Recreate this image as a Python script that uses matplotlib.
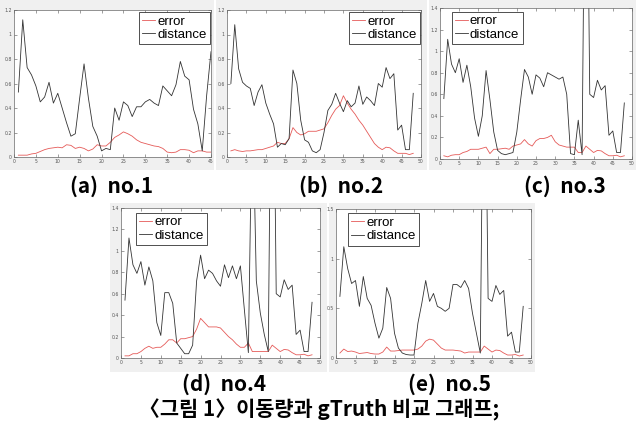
import matplotlib
matplotlib.use("Agg")
import matplotlib.pyplot as plt
from matplotlib.ticker import FuncFormatter
import numpy as np

W, H = 636, 428

# ---------------- data ----------------
err_a = [0.015, 0.015, 0.015, 0.025, 0.03, 0.045, 0.06, 0.07, 0.075, 0.08,
         0.075, 0.1, 0.095, 0.07, 0.08, 0.07, 0.05, 0.065, 0.1, 0.09,
         0.09, 0.12, 0.16, 0.18, 0.205, 0.19, 0.17, 0.14, 0.12, 0.11,
         0.1, 0.09, 0.085, 0.07, 0.04, 0.035, 0.04, 0.06, 0.06, 0.055,
         0.035, 0.05, 0.05, 0.04, 0.04]
dist_a = [0.53, 1.12, 0.73, 0.67, 0.58, 0.45, 0.49, 0.61, 0.44, 0.52,
          0.4, 0.28, 0.17, 0.19, 0.48, 0.76, 0.48, 0.25, 0.17, 0.05,
          0.07, 0.06, 0.4, 0.3, 0.45, 0.42, 0.33, 0.41, 0.41, 0.45,
          0.47, 0.44, 0.42, 0.58, 0.54, 0.5, 0.59, 0.78, 0.66, 0.63,
          0.39, 0.27, 0.05, 0.5, 0.86]

err_b = [0.05, 0.06, 0.05, 0.045, 0.05, 0.05, 0.055, 0.06, 0.06, 0.07,
         0.08, 0.09, 0.12, 0.11, 0.11, 0.15, 0.24, 0.2, 0.18, 0.19,
         0.21, 0.21, 0.21, 0.22, 0.23, 0.28, 0.34, 0.39, 0.42, 0.5,
         0.44, 0.39, 0.35, 0.3, 0.26, 0.21, 0.16, 0.11, 0.08, 0.06,
         0.08, 0.075, 0.05, 0.03, 0.03, 0.03, 0.02, 0.03]
dist_b = [0.6, 1.08, 0.72, 0.61, 0.58, 0.56, 0.42, 0.53, 0.59, 0.44,
          0.35, 0.27, 0.08, 0.11, 0.1, 0.15, 0.71, 0.6, 0.3, 0.14,
          0.12, 0.05, 0.035, 0.06, 0.2, 0.38, 0.43, 0.52, 0.44, 0.37,
          0.46, 0.41, 0.44, 0.58, 0.43, 0.49, 0.46, 0.42, 0.6, 0.57,
          0.73, 0.64, 0.68, 0.22, 0.26, 0.06, 0.06, 0.52]

err_c = [0.03, 0.02, 0.035, 0.04, 0.04, 0.06, 0.07, 0.09, 0.09, 0.09,
         0.1, 0.11, 0.05, 0.09, 0.09, 0.095, 0.1, 0.09, 0.12, 0.13,
         0.14, 0.18, 0.14, 0.12, 0.17, 0.19, 0.19, 0.2, 0.22, 0.16,
         0.13, 0.12, 0.11, 0.11, 0.11, 0.06, 0.06, 0.12, 0.09, 0.06,
         0.08, 0.075, 0.05, 0.03, 0.03, 0.035, 0.02, 0.03]
dist_c = [0.56, 1.11, 0.88, 0.8, 0.93, 0.71, 0.87, 0.67, 0.38, 0.21,
          0.4, 0.82, 0.55, 0.25, 0.08, 0.05, 0.04, 0.05, 0.06, 0.25,
          0.55, 0.83, 0.76, 0.6, 0.78, 0.75, 0.67, 0.8, 0.78, 0.76,
          0.74, 0.76, 0.6, 0.05, 0.04, 0.36, 0.04, 4.0, 0.6, 0.57,
          0.73, 0.64, 0.68, 0.22, 0.26, 0.06, 0.06, 0.52]

err_d = [0.02, 0.02, 0.04, 0.04, 0.06, 0.09, 0.11, 0.09, 0.1, 0.1,
         0.13, 0.17, 0.17, 0.14, 0.18, 0.18, 0.19, 0.2, 0.27, 0.37,
         0.33, 0.29, 0.29, 0.29, 0.28, 0.24, 0.2, 0.17, 0.13, 0.1,
         0.1, 0.14, 0.06, 0.06, 0.06, 0.06, 0.06, 0.12, 0.09, 0.06,
         0.08, 0.075, 0.05, 0.03, 0.03, 0.035, 0.02, 0.03]
dist_d = [0.54, 1.12, 0.87, 0.79, 0.9, 0.68, 0.85, 0.72, 0.33, 0.21,
          0.61, 0.61, 0.51, 0.14, 0.09, 0.04, 0.04, 0.12, 0.72, 0.96,
          0.74, 0.82, 0.79, 0.72, 0.67, 0.87, 0.75, 0.86, 0.74, 0.86,
          0.45, 0.05, 2.5, 0.72, 0.42, 0.22, 0.06, 4.0, 0.6, 0.57,
          0.73, 0.64, 0.68, 0.22, 0.26, 0.06, 0.06, 0.52]

err_e = [0.05, 0.09, 0.065, 0.07, 0.06, 0.045, 0.05, 0.055, 0.045, 0.04,
         0.04, 0.06, 0.11, 0.07, 0.07, 0.075, 0.08, 0.08, 0.08, 0.08,
         0.09, 0.12, 0.17, 0.19, 0.18, 0.14, 0.1, 0.08, 0.08, 0.08,
         0.075, 0.07, 0.05, 0.06, 0.06, 0.06, 0.06, 0.12, 0.09, 0.06,
         0.08, 0.075, 0.05, 0.03, 0.03, 0.035, 0.02, 0.03]
dist_e = [0.62, 1.12, 0.9, 0.75, 0.78, 0.52, 0.82, 0.6, 0.53, 0.35,
          0.2, 0.3, 0.71, 0.6, 0.25, 0.1, 0.05, 0.035, 0.03, 0.03,
          0.35, 0.55, 0.78, 0.57, 0.65, 0.52, 0.5, 0.47, 0.5, 0.74,
          0.74, 0.71, 0.78, 0.7, 0.45, 0.25, 0.05, 4.0, 0.6, 0.57,
          0.73, 0.64, 0.68, 0.22, 0.26, 0.06, 0.06, 0.52]

series_labels = ["error", "distance"]
captions = ["(a)  no.1", "(b)  no.2", "(c)  no.3", "(d)  no.4", "(e)  no.5"]
fig_caption = "〈그림 1〉이동량과 gTruth 비교 그래프;"

x_limits = [45, 50, 50, 50, 50]
x_ticks = [np.arange(0, 46, 5), np.arange(0, 51, 5), np.arange(0, 51, 5),
           np.arange(0, 51, 5), np.arange(0, 51, 5)]
y_limits = [1.2, 1.2, 1.4, 1.4, 1.5]
y_ticks = [np.arange(0, 1.21, 0.2), np.arange(0, 1.21, 0.2),
           np.arange(0, 1.41, 0.2), np.arange(0, 1.41, 0.2),
           np.arange(0, 1.51, 0.5)]

panels = [(err_a, dist_a), (err_b, dist_b), (err_c, dist_c),
          (err_d, dist_d), (err_e, dist_e)]

# ---------------- layout (pixels) ----------------
ax_boxes = [(14, 10, 211, 157), (227, 10, 421, 157), (440, 8, 632, 159),
            (121, 208, 320, 358), (336, 209, 531, 358)]
gray_boxes = [(0, 0, 214, 170), (216, 0, 427, 170), (429, 0, 636, 170),
              (110, 203, 327, 372), (329, 203, 535, 372)]
legend_anchor = [("upper right", (0.995, 0.985)), ("upper right", (0.995, 0.985)),
                 ("upper left", (0.06, 0.975)), ("upper left", (0.075, 0.967)),
                 ("upper left", (0.06, 0.97))]
cap_pos = [(112, 186), (341, 186), (565, 186), (224, 384), (449, 384)]

fig = plt.figure(figsize=(W / 100, H / 100), dpi=100)
fig.patch.set_facecolor("white")

for (x0, y0, x1, y1) in gray_boxes:
    bg = fig.add_axes([x0 / W, 1 - y1 / H, (x1 - x0) / W, (y1 - y0) / H], zorder=-5)
    bg.set_facecolor("#f0f0f0")
    bg.set_xticks([])
    bg.set_yticks([])
    for s in bg.spines.values():
        s.set_visible(False)

fmt = FuncFormatter(lambda v, p: ("%g" % round(v, 2)))

for i, (err, dist) in enumerate(panels):
    x0, y0, x1, y1 = ax_boxes[i]
    ax = fig.add_axes([x0 / W, 1 - y1 / H, (x1 - x0) / W, (y1 - y0) / H], zorder=2)
    ax.set_facecolor("white")
    xs = np.arange(1, len(err) + 1)
    ax.plot(xs, err, color="#e55a58", lw=0.6, label=series_labels[0])
    ax.plot(xs, dist, color="#333333", lw=0.6, label=series_labels[1])
    ax.set_xlim(0, x_limits[i])
    ax.set_ylim(0, y_limits[i])
    ax.set_xticks(x_ticks[i])
    ax.set_yticks(y_ticks[i])
    ax.xaxis.set_major_formatter(fmt)
    ax.yaxis.set_major_formatter(fmt)
    ax.tick_params(direction="in", length=2, width=0.4, labelsize=3.3,
                   colors="#555555", pad=1.5, top=True, right=True)
    for s in ax.spines.values():
        s.set_linewidth(0.5)
        s.set_color("#666666")
    loc, anchor = legend_anchor[i]
    leg = ax.legend(loc=loc, bbox_to_anchor=anchor, borderaxespad=0,
                    prop={"family": "Liberation Sans", "size": 9.5},
                    handlelength=1.0, handletextpad=0.15, borderpad=0.25,
                    labelspacing=0.08, fancybox=False, framealpha=1,
                    edgecolor="#333333")
    leg.get_frame().set_linewidth(0.6)
    cx, cy = cap_pos[i]
    fig.text(cx / W, 1 - cy / H, captions[i], ha="center", va="center",
             fontsize=15, fontweight="bold",
             family=["Noto Sans CJK KR", "DejaVu Sans"])

fig.text(319 / W, 1 - 410 / H, fig_caption, ha="center", va="center",
         fontsize=15, fontweight="bold",
         family=["Noto Sans CJK KR", "DejaVu Sans"])

fig.savefig("out.png", dpi=100, facecolor="white")
